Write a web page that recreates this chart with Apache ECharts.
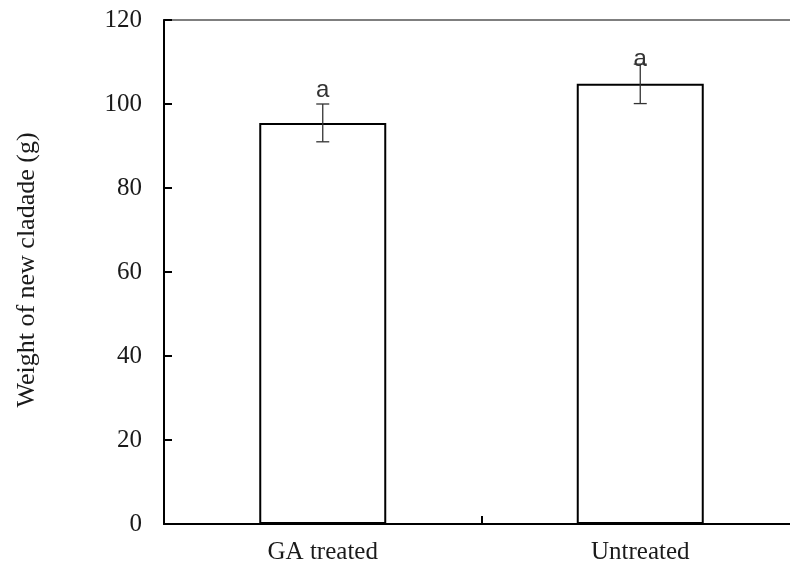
<!DOCTYPE html>
<html>
<head>
<meta charset="utf-8">
<script src="https://cdn.jsdelivr.net/npm/echarts@6/dist/echarts.min.js"></script>
<style>
html,body{margin:0;padding:0;background:#fff;overflow:hidden;}
#chart{width:802px;height:567px;}
</style>
</head>
<body>
<div id="chart"></div>
<script>
const categories = ['GA treated', 'Untreated'];
const means = [95.5, 104.8];
const errors = [4.5, 4.7];
const letters = ['a', 'a'];
const letterY = [103.3, 110.6];
const yTicks = [0, 20, 40, 60, 80, 100, 120];

const chart = echarts.init(document.getElementById('chart'), null, {renderer: 'canvas'});
const serif = 'Liberation Serif, Times New Roman, serif';

const errData = categories.map((c, i) => [i, means[i], errors[i], letterY[i], letters[i]]);

chart.setOption({
  backgroundColor: '#ffffff',
  animation: false,
  grid: {
    left: 164, top: 20, width: 635, height: 504,
    show: true, borderColor: '#555', borderWidth: 1.5, backgroundColor: 'transparent'
  },
  xAxis: {
    type: 'category',
    data: categories,
    axisLine: {lineStyle: {color: '#000', width: 2}},
    axisTick: {show: true, inside: true, length: 8, lineStyle: {color: '#000', width: 2}},
    axisLabel: {color: '#1a1a1a', fontFamily: serif, fontSize: 25, margin: 16}
  },
  yAxis: {
    type: 'value',
    min: yTicks[0], max: yTicks[yTicks.length - 1], interval: 20,
    splitLine: {show: false},
    axisLine: {show: true, lineStyle: {color: '#000', width: 2}},
    axisTick: {show: true, inside: true, length: 8, lineStyle: {color: '#000', width: 2}},
    axisLabel: {color: '#1a1a1a', fontFamily: serif, fontSize: 25, margin: 22}
  },
  graphic: [{
    type: 'text',
    rotation: Math.PI / 2,
    x: 27, y: 270,
    style: {
      text: 'Weight of new cladade (g)',
      fill: '#1a1a1a',
      font: '26px ' + serif,
      textAlign: 'center',
      textVerticalAlign: 'middle'
    }
  }],
  series: [{
    type: 'bar',
    data: means,
    barWidth: '40%',
    itemStyle: {color: '#ffffff', borderColor: '#000', borderWidth: 2},
    z: 2
  }, {
    type: 'custom',
    data: errData,
    z: 3,
    renderItem: function (params, api) {
      const i = api.value(0);
      const m = api.value(1);
      const e = api.value(2);
      const ly = api.value(3);
      const top = api.coord([i, m + e]);
      const bot = api.coord([i, m - e]);
      const lab = api.coord([i, ly]);
      const hw = 6.5;
      const st = {stroke: '#333', lineWidth: 1.3};
      return {
        type: 'group',
        children: [
          {type: 'line', shape: {x1: top[0], y1: top[1], x2: bot[0], y2: bot[1]}, style: st},
          {type: 'line', shape: {x1: top[0] - hw, y1: top[1], x2: top[0] + hw, y2: top[1]}, style: st},
          {type: 'line', shape: {x1: bot[0] - hw, y1: bot[1], x2: bot[0] + hw, y2: bot[1]}, style: st},
          {type: 'text', x: lab[0], y: lab[1], style: {
            text: errData[params.dataIndex][4],
            fill: '#333', font: '24px Liberation Sans, Arial, sans-serif',
            textAlign: 'center', textVerticalAlign: 'middle'
          }}
        ]
      };
    }
  }]
});
</script>
</body>
</html>
